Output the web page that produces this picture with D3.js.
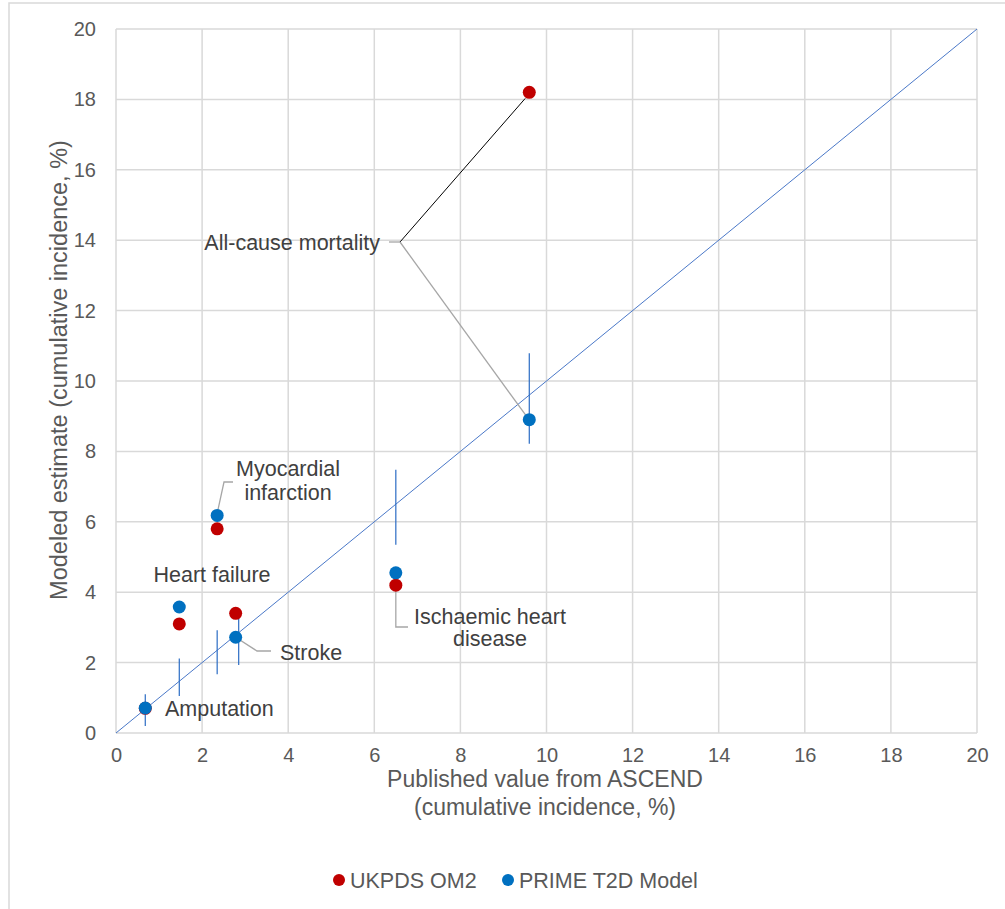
<!DOCTYPE html>
<html><head><meta charset="utf-8">
<script src="https://cdn.jsdelivr.net/npm/d3@7"></script>
<style>body{margin:0;background:#fff;} text{font-family:"Liberation Sans",Arial,sans-serif;}</style>
</head><body>
<svg id="c" width="1005" height="909"></svg>
<script>
const outcomes = ["All-cause mortality","Myocardial infarction","Heart failure","Stroke","Ischaemic heart disease","Amputation"];
const published = [9.6, 2.35, 1.47, 2.78, 6.5, 0.68];
const ukpdsValues = [18.2, 5.8, 3.1, 3.4, 4.2, 0.7];
const primeValues = [8.9, 6.18, 3.58, 2.72, 4.55, 0.71];
const ciX = [9.6, 2.35, 1.47, 2.85, 6.5, 0.68];
const ciLow = [8.22, 1.67, 1.05, 1.93, 5.35, 0.2];
const ciHigh = [10.79, 2.92, 2.12, 3.43, 7.48, 1.1];
const ticks = [0,2,4,6,8,10,12,14,16,18,20];
const seriesNames = ["UKPDS OM2","PRIME T2D Model"];
const seriesColors = ["#C00000","#0070C0"];

const svg = d3.select("#c");
const x = d3.scaleLinear().domain([0,20]).range([116,977]);
const y = d3.scaleLinear().domain([0,20]).range([733,29]);

// outer border
svg.append("path").attr("d","M9,909 V3 H1005").attr("fill","none").attr("stroke","#d9d9d9").attr("stroke-width",1.5);

// grid
const g = svg.append("g");
g.selectAll(".vg").data(ticks).join("line").attr("x1",d=>x(d)).attr("x2",d=>x(d)).attr("y1",y(0)).attr("y2",y(20)).attr("stroke","#d9d9d9").attr("stroke-width",1.5);
g.selectAll(".hg").data(ticks).join("line").attr("y1",d=>y(d)).attr("y2",d=>y(d)).attr("x1",x(0)).attr("x2",x(20)).attr("stroke","#d9d9d9").attr("stroke-width",1.5);

// axes tick labels via d3 axes
const xa = svg.append("g").attr("transform",`translate(0,${y(0)})`).call(d3.axisBottom(x).tickValues(ticks).tickSize(0).tickPadding(15));
const ya = svg.append("g").attr("transform",`translate(${x(0)},0)`).call(d3.axisLeft(y).tickValues(ticks).tickSize(0).tickPadding(20));
[xa,ya].forEach(a=>{a.select(".domain").remove();a.selectAll("text").attr("font-size",20).attr("fill","#595959").attr("font-family","Liberation Sans, Arial, sans-serif");});

// diagonal
svg.append("line").attr("x1",x(0)).attr("y1",y(0)).attr("x2",x(20)).attr("y2",y(20)).attr("stroke","#4a78c8").attr("stroke-width",1);

// CI bars
svg.selectAll(".ci").data(ciX).join("line").attr("x1",d=>x(d)).attr("x2",d=>x(d)).attr("y1",(d,i)=>y(ciLow[i])).attr("y2",(d,i)=>y(ciHigh[i])).attr("stroke","#2b6cc4").attr("stroke-width",1.2);

// leader lines
const lead = svg.append("g").attr("fill","none").attr("stroke-width",1.3);
lead.append("path").attr("d",`M389,242 H400`).attr("stroke","#a6a6a6");
lead.append("path").attr("d",`M400,242 L${x(published[0])-4},${y(ukpdsValues[0])+6}`).attr("stroke","#000").attr("stroke-width",1);
lead.append("path").attr("d",`M400,242 L${x(published[0])-1},${y(primeValues[0])-1}`).attr("stroke","#a6a6a6");
lead.append("path").attr("d",`M233,482 H224 L${x(published[1])},${y(primeValues[1])-2}`).attr("stroke","#a6a6a6");
lead.append("path").attr("d",`M${x(published[3])},${y(primeValues[3])} L257,651 H271`).attr("stroke","#a6a6a6");
lead.append("path").attr("d",`M${x(published[4])},${y(primeValues[4])} V627 H408`).attr("stroke","#a6a6a6");

// points: red first, blue on top
svg.selectAll(".r").data(published).join("circle").attr("cx",d=>x(d)).attr("cy",(d,i)=>y(ukpdsValues[i])).attr("r",6.5).attr("fill",seriesColors[0]);
svg.selectAll(".b").data(published).join("circle").attr("cx",d=>x(d)).attr("cy",(d,i)=>y(primeValues[i])).attr("r",6.5).attr("fill",seriesColors[1]);

// labels
const lab = svg.append("g").attr("font-size",21.5).attr("fill","#404040");
lab.append("text").attr("x",380).attr("y",249.5).attr("text-anchor","end").text("All-cause mortality");
lab.append("text").attr("x",288).attr("y",476).attr("text-anchor","middle").text("Myocardial");
lab.append("text").attr("x",288).attr("y",500).attr("text-anchor","middle").text("infarction");
lab.append("text").attr("x",212).attr("y",582).attr("text-anchor","middle").text("Heart failure");
lab.append("text").attr("x",280).attr("y",660).text("Stroke");
lab.append("text").attr("x",165).attr("y",716).text("Amputation");
lab.append("text").attr("x",490).attr("y",624).attr("text-anchor","middle").text("Ischaemic heart");
lab.append("text").attr("x",490).attr("y",646).attr("text-anchor","middle").text("disease");

// axis titles
const t = svg.append("g").attr("font-size",23).attr("fill","#595959").attr("text-anchor","middle");
t.append("text").attr("x",545).attr("y",787).text("Published value from ASCEND");
t.append("text").attr("x",545).attr("y",815).text("(cumulative incidence, %)");
t.append("text").attr("transform","translate(67,370) rotate(-90)").attr("font-size",23.5).text("Modeled estimate (cumulative incidence, %)");

// legend
const leg = svg.append("g").attr("font-size",21.5).attr("fill","#595959");
const legX = [339, 508];
seriesNames.forEach((n,i)=>{
  leg.append("circle").attr("cx",legX[i]).attr("cy",880).attr("r",6).attr("fill",seriesColors[i]);
  leg.append("text").attr("x",legX[i]+11).attr("y",887.5).text(n);
});
</script>
</body></html>
